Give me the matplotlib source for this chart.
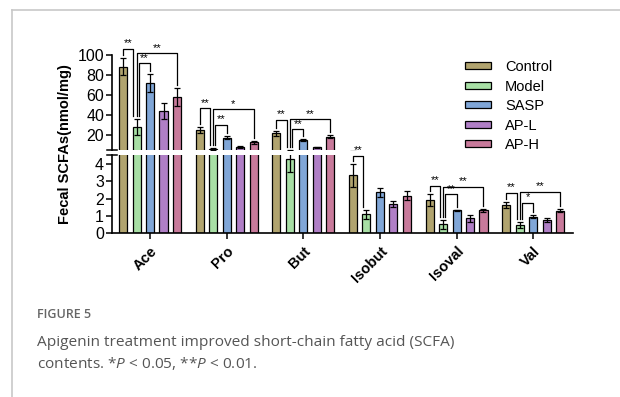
import matplotlib
matplotlib.use('Agg')
import matplotlib.pyplot as plt
import numpy as np
from matplotlib.lines import Line2D
from matplotlib.patches import Patch

plt.rcParams['font.family'] = ['Liberation Sans', 'DejaVu Sans']
plt.rcParams['mathtext.fontset'] = 'custom'
plt.rcParams['mathtext.rm'] = 'Open Sans'
plt.rcParams['mathtext.it'] = 'Open Sans:italic'

# data
groups = ['Ace', 'Pro', 'But', 'Isobut', 'Isoval', 'Val']
series = ['Control', 'Model', 'SASP', 'AP-L', 'AP-H']
control = [88.5, 25, 22, 3.35, 1.91, 1.62]
control_err = [8.4, 3.3, 2.5, 0.67, 0.35, 0.2]
model = [27.7, 6, 4.3, 1.07, 0.49, 0.45]
model_err = [8, 0.7, 0.75, 0.27, 0.25, 0.2]
sasp = [71.7, 17.3, 15, 2.36, 1.31, 0.94]
sasp_err = [9, 1.5, 0.7, 0.27, 0.03, 0.07]
apl = [43.7, 8.3, 7.7, 1.68, 0.84, 0.72]
apl_err = [8, 1, 0.7, 0.18, 0.19, 0.12]
aph = [58.3, 12.7, 18.5, 2.17, 1.31, 1.29]
aph_err = [9, 1.5, 1.5, 0.28, 0.1, 0.08]
colors = ['#b1a46f', '#a8dfa5', '#80a6d7', '#b07fc6', '#c87a9b']

# significance brackets: group, bar a, bar b, bracket height, label
sig = [
    ('Ace', 0, 1, 106, '**'), ('Ace', 1, 2, 91.7, '**'), ('Ace', 1, 4, 101.7, '**'),
    ('Pro', 0, 1, 46.7, '**'), ('Pro', 1, 2, 30, '**'), ('Pro', 1, 4, 45.7, '*'),
    ('But', 0, 1, 35, '**'), ('But', 1, 2, 25.7, '**'), ('But', 1, 4, 35.7, '**'),
    ('Isobut', 0, 1, 4.5, '**'),
    ('Isoval', 0, 1, 2.75, '**'), ('Isoval', 1, 2, 2.26, '**'), ('Isoval', 1, 4, 2.69, '**'),
    ('Val', 0, 1, 2.34, '**'), ('Val', 1, 2, 1.75, '*'), ('Val', 1, 4, 2.4, '**'),
]
upper_groups = ['Ace', 'Pro', 'But']

vals = [control, model, sasp, apl, aph]
errs = [control_err, model_err, sasp_err, apl_err, aph_err]

fig = plt.figure(figsize=(6.2, 3.97), dpi=100)
W, H = 620, 397

def fax(l, t, r, b):
    return fig.add_axes([l / W, 1 - b / H, (r - l) / W, (b - t) / H])

ax_top = fax(111.7, 43, 573, 150)
ax_bot = fax(111.7, 155, 573, 232.7)

x = np.arange(len(groups))
step = 0.176
width = 0.105
offs = (np.arange(5) - 2) * step

for ax in (ax_top, ax_bot):
    for i in range(5):
        ax.bar(x + offs[i], vals[i], width, color=colors[i], edgecolor='black', linewidth=0.9, zorder=2)
        ax.errorbar(x + offs[i], vals[i], yerr=errs[i], fmt='none', ecolor='black',
                    elinewidth=0.9, capsize=2.3, capthick=0.9, zorder=3)
    ax.set_xlim(-0.5, 5.52)
    for s in ['top', 'right']:
        ax.spines[s].set_visible(False)
    ax.spines['left'].set_linewidth(1.2)
    ax.tick_params(axis='y', labelsize=11.5, width=1.1, length=4, pad=1.5)

ax_top.set_ylim(5, 112)
ax_top.spines['left'].set_bounds(5, 100)
ax_top.spines['bottom'].set_visible(False)
ax_top.set_yticks([20, 40, 60, 80, 100])
ax_top.set_xticks([])

ax_bot.set_ylim(0, 4.55)
ax_bot.set_yticks([0, 1, 2, 3, 4])
ax_bot.spines['bottom'].set_linewidth(1.2)
ax_bot.set_xticks(x)
ax_bot.set_xticklabels(groups, rotation=45, ha='right', rotation_mode='anchor',
                       fontweight='bold', fontsize=10.5)
ax_bot.tick_params(axis='x', width=1.1, length=4, pad=4)

# break marks on the y axis
ax_top.plot([-0.555, -0.43], [5, 5], color='black', lw=1.1, clip_on=False)
ax_bot.plot([-0.555, -0.43], [4.55, 4.55], color='black', lw=1.1, clip_on=False)

# brackets
for g, a, b, top, lab in sig:
    gi = groups.index(g)
    ax = ax_top if g in upper_groups else ax_bot
    upp = 1.0 if g in upper_groups else 1 / 17.1
    xa = gi + offs[a]
    xb = gi + offs[b]
    if a == 0:
        xb -= 0.04
    elif b == 2:
        xa += 0.03
    la = min(top - 3 * upp, vals[a][gi] + errs[a][gi] + 3 * upp)
    lb = min(top - 3 * upp, vals[b][gi] + errs[b][gi] + 3 * upp)
    ax.plot([xa, xa, xb, xb], [la, top, top, lb], color='black', lw=0.9, clip_on=False, zorder=4)
    ax.text((xa + xb) / 2, top + 0.5 * upp, lab, ha='center', va='bottom', fontsize=8,
            clip_on=False)

fig.text(65 / W, 1 - 144 / H, 'Fecal SCFAs(nmol/mg)', rotation=90, ha='center', va='center',
         fontsize=10.5, fontweight='bold')

handles = [Patch(facecolor=colors[i], edgecolor='black', linewidth=0.9) for i in range(5)]
fig.legend(handles, series, loc='upper left', bbox_to_anchor=(465 / W, 1 - 60 / H),
           frameon=False, fontsize=10.5, handlelength=1.75, handleheight=0.35,
           handletextpad=1.0, labelspacing=0.38, borderpad=0, borderaxespad=0)

# frame and caption
fig.add_artist(Line2D([12 / W, 1], [1 - 10 / H, 1 - 10 / H], color='#c8c8c8', lw=1.2))
fig.add_artist(Line2D([12 / W, 12 / W], [0, 1 - 10 / H], color='#c8c8c8', lw=1.2))
fig.text(37 / W, 1 - 315 / H, 'FIGURE 5', fontsize=9, fontweight='semibold', color='#666666',
         family='Open Sans', va='center')
fig.text(37 / W, 1 - 342 / H, 'Apigenin treatment improved short-chain fatty acid (SCFA)',
         fontsize=11.1, color='#555555', family='Open Sans', va='center')
fig.text(37 / W, 1 - 364 / H, r'contents. *$P$ < 0.05, **$P$ < 0.01.',
         fontsize=11.1, color='#555555', family='Open Sans', va='center')

fig.savefig('out.png', dpi=100)
